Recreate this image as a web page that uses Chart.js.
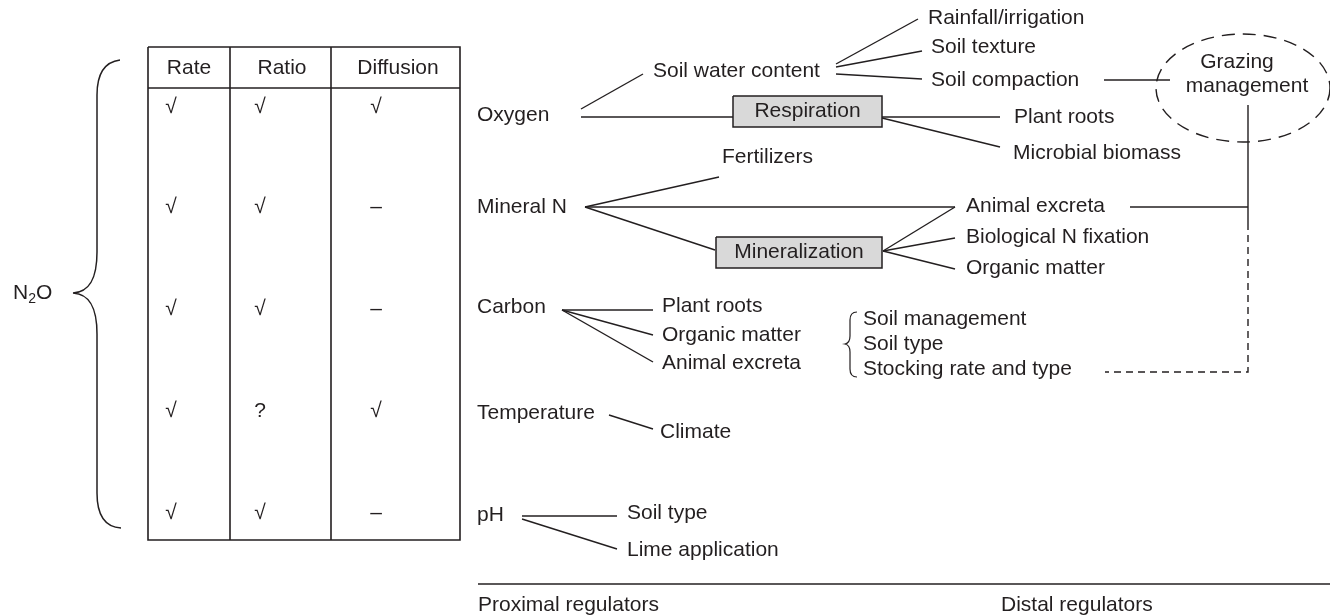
<!DOCTYPE html>
<html>
<head>
<meta charset="utf-8">
<script src="https://cdn.jsdelivr.net/npm/chart.js@4/dist/chart.umd.min.js"></script>
<style>
  html, body { margin: 0; padding: 0; background: #fff; }
  canvas { display: block; }
</style>
</head>
<body>
<canvas id="diagram" width="1330" height="616"></canvas>
<script>
// diagram units: x 0..1330, y 0..616 (top down)
const tableHeaders = ['Rate', 'Ratio', 'Diffusion']
const regulators = ['Oxygen', 'Mineral N', 'Carbon', 'Temperature', 'pH']
const rateMarks = ['√', '√', '√', '√', '√']
const ratioMarks = ['√', '√', '√', '?', '√']
const diffusionMarks = ['√', '–', '–', '√', '–']
const regulatorY = [115, 207, 307, 413, 515]
const markY = [107, 207, 309, 411, 513]
const markX = [171, 260, 376]
const headerX = [189, 282, 398]

const tableOutline = [[148, 47], [460, 47], [460, 540], [148, 540], [148, 47]]
const tableRules = [
  [[148, 88], [460, 88]],
  [[230, 47], [230, 540]],
  [[331, 47], [331, 540]]
]

const links = [
  [[581, 109], [643, 74]],
  [[581, 117], [733, 117]],
  [[836, 64], [918, 19]],
  [[836, 67], [922, 51]],
  [[836, 74], [922, 79]],
  [[1104, 80], [1170, 80]],
  [[882, 117], [1000, 117]],
  [[882, 118], [1000, 147]],
  [[585, 207], [719, 177]],
  [[585, 207], [955, 207]],
  [[585, 207], [715, 250]],
  [[883, 251], [955, 207]],
  [[883, 251], [955, 238]],
  [[883, 251], [955, 269]],
  [[1130, 207], [1248, 207]],
  [[1248, 105], [1248, 223]],
  [[562, 310], [653, 310]],
  [[562, 310], [653, 335]],
  [[562, 310], [653, 362]],
  [[609, 415], [653, 429]],
  [[522, 516], [617, 516]],
  [[522, 519], [617, 549]],
  [[478, 584], [1330, 584]]
]
const dashedLinks = [
  [[1248, 223], [1248, 372], [1105, 372]]
]

const boxes = [
  ['Respiration', 733, 96, 882, 127],
  ['Mineralization', 716, 237, 882, 268]
]

const grazingEllipse = [1243, 88, 87, 54]

const labels = [
  ['Soil water content', 653, 71],
  ['Rainfall/irrigation', 928, 18],
  ['Soil texture', 931, 47],
  ['Soil compaction', 931, 80],
  ['Plant roots', 1014, 117],
  ['Microbial biomass', 1013, 153],
  ['Fertilizers', 722, 157],
  ['Animal excreta', 966, 206],
  ['Biological N fixation', 966, 237],
  ['Organic matter', 966, 268],
  ['Plant roots', 662, 306],
  ['Organic matter', 662, 335],
  ['Animal excreta', 662, 363],
  ['Soil management', 863, 319],
  ['Soil type', 863, 344],
  ['Stocking rate and type', 863, 369],
  ['Climate', 660, 432],
  ['Soil type', 627, 513],
  ['Lime application', 627, 550],
  ['Proximal regulators', 478, 605],
  ['Distal regulators', 1001, 605]
]
const centeredLabels = [
  ['Grazing', 1237, 62],
  ['management', 1247, 86]
]

// brace paths: M = move, L = line, C = bezier (cp1, cp2, end), Q = quad (cp, end)
const bigBrace = [
  ['M', 120, 60],
  ['C', 104, 62, 97, 75, 97, 95],
  ['L', 97, 252],
  ['C', 97, 278, 90, 292, 73, 293],
  ['C', 90, 294, 97, 308, 97, 334],
  ['L', 97, 493],
  ['C', 97, 514, 104, 527, 121, 528]
]
const smallBrace = [
  ['M', 857, 312],
  ['Q', 850, 312, 850, 320],
  ['L', 850, 336],
  ['Q', 850, 343, 845, 344],
  ['Q', 850, 345, 850, 352],
  ['L', 850, 369],
  ['Q', 850, 377, 857, 377]
]

const ink = '#231f20'
const font = '21px "Liberation Sans", Arial, sans-serif'

const toPoints = (pts) => pts.map(([x, y]) => ({ x, y }))
const lineSet = (pts, extra = {}) => ({
  data: toPoints(pts),
  showLine: true,
  pointRadius: 0,
  borderColor: ink,
  borderWidth: 1.4,
  tension: 0,
  fill: false,
  ...extra
})

const datasets = []
boxes.forEach(([, x1, y1, x2, y2]) => {
  datasets.push(lineSet([[x1, y1], [x2, y1], [x2, y2], [x1, y2], [x1, y1]], {
    fill: 'shape',
    backgroundColor: '#d9d9d9',
    borderWidth: 1.5
  }))
})
datasets.push(lineSet(tableOutline, { borderWidth: 1.6 }))
tableRules.forEach(r => datasets.push(lineSet(r, { borderWidth: 1.6 })))
links.forEach(l => datasets.push(lineSet(l)))
dashedLinks.forEach(l => datasets.push(lineSet(l, { borderDash: [7, 5] })))

const diagramPlugin = {
  id: 'diagramText',
  afterDatasetsDraw (chart) {
    const { ctx, scales: { x, y } } = chart
    const px = v => x.getPixelForValue(v)
    const py = v => y.getPixelForValue(v)
    ctx.save()
    ctx.fillStyle = ink
    ctx.strokeStyle = ink
    ctx.font = font
    ctx.textBaseline = 'middle'

    const text = (t, tx, ty, align = 'left') => {
      ctx.textAlign = align
      ctx.fillText(t, px(tx), py(ty))
    }

    tableHeaders.forEach((h, i) => text(h, headerX[i], 68, 'center'))
    regulators.forEach((r, i) => {
      text(r, 477, regulatorY[i])
      text(rateMarks[i], markX[0], markY[i], 'center')
      text(ratioMarks[i], markX[1], markY[i], 'center')
      text(diffusionMarks[i], markX[2], markY[i], 'center')
    })
    boxes.forEach(([t, x1, y1, x2, y2]) => text(t, (x1 + x2) / 2, (y1 + y2) / 2, 'center'))
    labels.forEach(([t, lx, ly]) => text(t, lx, ly))
    centeredLabels.forEach(([t, lx, ly]) => text(t, lx, ly, 'center'))

    // N2O with subscript
    ctx.textAlign = 'left'
    ctx.fillText('N', px(13), py(293))
    const nW = ctx.measureText('N').width
    ctx.font = '14px "Liberation Sans", Arial, sans-serif'
    ctx.fillText('2', px(13) + nW, py(299))
    const sW = ctx.measureText('2').width
    ctx.font = font
    ctx.fillText('O', px(13) + nW + sW, py(293))

    // braces
    const drawPath = (cmds) => {
      ctx.beginPath()
      cmds.forEach(([c, ...v]) => {
        const p = v.map((n, i) => (i % 2 === 0 ? px(n) : py(n)))
        if (c === 'M') ctx.moveTo(...p)
        else if (c === 'L') ctx.lineTo(...p)
        else if (c === 'C') ctx.bezierCurveTo(...p)
        else if (c === 'Q') ctx.quadraticCurveTo(...p)
      })
      ctx.stroke()
    }
    ctx.lineWidth = 1.5
    drawPath(bigBrace)
    ctx.lineWidth = 1.2
    drawPath(smallBrace)

    // grazing management ellipse
    const [cx, cy, rx, ry] = grazingEllipse
    ctx.lineWidth = 1.4
    ctx.setLineDash([13, 8])
    ctx.beginPath()
    ctx.ellipse(px(cx), py(cy), px(cx + rx) - px(cx), py(cy + ry) - py(cy), 0, 0, Math.PI * 2)
    ctx.stroke()
    ctx.restore()
  }
}

new Chart(document.getElementById('diagram'), {
  type: 'scatter',
  data: { datasets },
  options: {
    responsive: false,
    animation: false,
    layout: { padding: 0 },
    plugins: {
      legend: { display: false },
      tooltip: { enabled: false }
    },
    scales: {
      x: { type: 'linear', min: 0, max: 1330, display: false },
      y: { type: 'linear', min: 0, max: 616, reverse: true, display: false }
    }
  },
  plugins: [diagramPlugin]
})
</script>
</body>
</html>
